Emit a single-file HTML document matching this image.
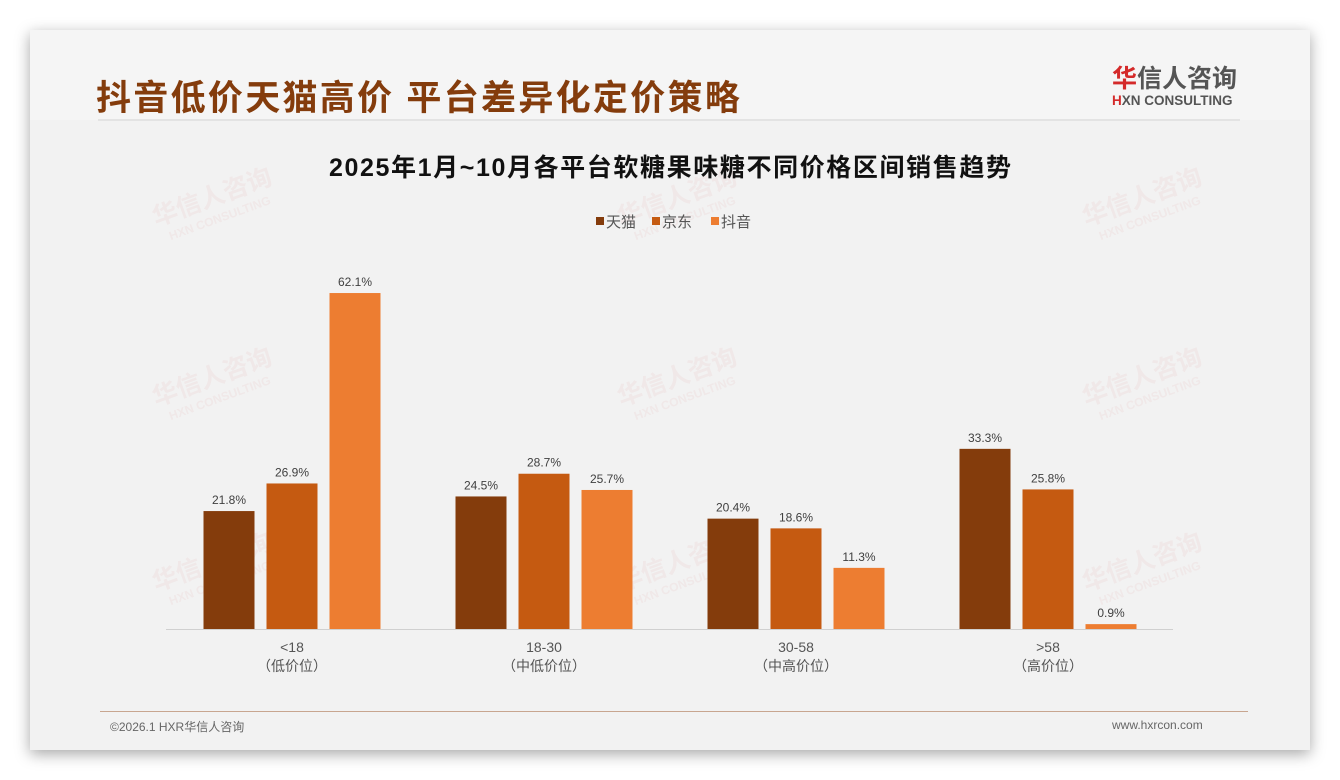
<!DOCTYPE html>
<html><head><meta charset="utf-8"><style>
body{margin:0;width:1340px;height:780px;background:#fff;font-family:"Liberation Sans","Noto Sans CJK SC",sans-serif;position:relative;overflow:hidden}
#card{position:absolute;left:30px;top:30px;width:1280px;height:720px;background:#f2f2f2;box-shadow:0 4px 14px rgba(0,0,0,.35)}
#hdr{position:absolute;left:0;top:0;width:1280px;height:90px;background:#f5f5f5}
.wm{position:absolute;transform:rotate(-20deg);color:rgba(220,120,120,.08);font-weight:bold;text-align:center;line-height:1}
</style></head><body>
<div id="card">
<div id="hdr"></div>
<div style="position:absolute;left:66px;top:40px;font-size:35px;font-weight:bold;color:#843c0c;letter-spacing:2.3px">抖音低价天猫高价 平台差异化定价策略</div>
<div style="position:absolute;left:68px;top:89px;width:1142px;height:2px;background:#e3e3e3"></div>
<div style="position:absolute;left:1082px;top:34px;width:140px;text-align:left">
<div style="font-size:25px;font-weight:bold;color:#555;line-height:30px"><span style="color:#d42a2a">华</span>信人咨询</div>
<div style="font-size:13.5px;font-weight:bold;color:#555;line-height:14px"><span style="color:#d42a2a">H</span>XN CONSULTING</div></div>
<div style="position:absolute;left:70px;top:681px;width:1148px;height:1px;background:#c8a690"></div>
<div style="position:absolute;left:80px;top:688px;font-size:12px;color:#666">©2026.1 HXR华信人咨询</div>
<div style="position:absolute;left:1082px;top:688px;font-size:12px;color:#666">www.hxrcon.com</div>
</div>
<div id="wms"></div>
<svg id="chart" width="1340" height="780" style="position:absolute;left:0;top:0"></svg>
<script>
const categories=["<18","18-30","30-58",">58"];
const subLabels=["（低价位）","（中低价位）","（中高价位）","（高价位）"];
const seriesNames=["天猫","京东","抖音"];
const tmall=[21.8,24.5,20.4,33.3];
const jd=[26.9,28.7,18.6,25.8];
const douyin=[62.1,25.7,11.3,0.9];
const series=[tmall,jd,douyin];
const colors=["#843c0c","#c55a11","#ed7d31"];
const NS="http://www.w3.org/2000/svg";
const svg=document.getElementById('chart');
const base=629, pxPer=5.41;
function y(v){return base-v*pxPer;}
function cx(i){return 292+i*252;}
function mk(t,a,txt){const e=document.createElementNS(NS,t);for(const k in a)e.setAttribute(k,a[k]);if(txt!==undefined)e.textContent=txt;svg.appendChild(e);return e;}
const wmPos=[[215,210],[680,210],[1145,210],[215,390],[680,390],[1145,390],[215,575],[680,575],[1145,575]];
const wms=document.getElementById('wms');
wmPos.forEach(p=>{const d=document.createElement('div');d.className='wm';


d.style.left=(p[0]-70)+'px';d.style.top=(p[1]-25)+'px';d.style.width='140px';
d.innerHTML='<div style="font-size:25px">华信人咨询</div><div style="font-size:12px;margin-top:3px">HXN CONSULTING</div>';wms.appendChild(d);});
let t=mk('text',{x:670,y:176,'text-anchor':'middle','font-size':25,'font-weight':'bold',fill:'#111',textLength:682,lengthAdjust:'spacing'},'2025年1月~10月各平台软糖果味糖不同价格区间销售趋势');


const legX=[596,652,711];
seriesNames.forEach((n,s)=>{
const r=mk('rect',{x:legX[s],y:217,width:8,height:8,fill:colors[s]});


const l=mk('text',{x:legX[s]+10,y:227,'font-size':15,fill:'#555'},n);


});
const ax=mk('line',{x1:166,x2:1173,y1:base+0.5,y2:base+0.5,stroke:'#d0d0d0','stroke-width':1});


const offs=[-88.5,-25.5,37.5];
categories.forEach((c,i)=>{
series.forEach((arr,s)=>{
const x=cx(i)+offs[s], v=arr[i];
const b=mk('rect',{x:x,y:y(v),width:51,height:v*pxPer,fill:colors[s]});


const lb=mk('text',{x:x+25.5,y:y(v)-7,'text-anchor':'middle','font-size':12,fill:'#404040'},v.toFixed(1)+'%');


});
const a=mk('text',{x:cx(i),y:652,'text-anchor':'middle','font-size':14,fill:'#555'},c);


const b2=mk('text',{x:cx(i),y:671,'text-anchor':'middle','font-size':14,fill:'#555'},subLabels[i]);


});
</script>
</body></html>
